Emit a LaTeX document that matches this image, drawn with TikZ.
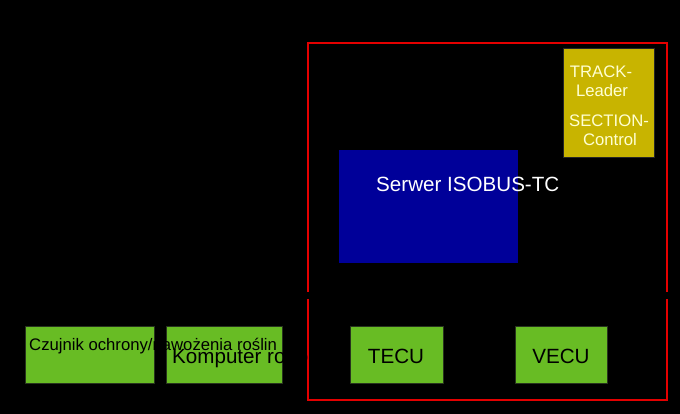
\documentclass[tikz,border=0pt]{standalone}
\usepackage{fontspec}
\setmainfont{Liberation Sans}
\definecolor{boxgreen}{RGB}{104,188,36}
\definecolor{boxedge}{RGB}{40,52,30}
\definecolor{olive}{RGB}{200,180,0}
\definecolor{serverblue}{RGB}{0,0,153}
\definecolor{paleyellow}{RGB}{255,255,210}
\definecolor{framered}{RGB}{228,0,0}
\begin{document}
\begin{tikzpicture}[x=1pt,y=-1pt,
  greenbox/.style={draw=boxedge,line width=1pt,fill=boxgreen,inner sep=0pt},
  bigtxt/.style={font=\fontsize{20.6}{22}\selectfont,inner sep=0pt},
  smalltxt/.style={font=\fontsize{16.7}{18}\selectfont,inner sep=0pt}]
\fill[black] (0,0) rectangle (680,414);
\useasboundingbox (0,0) rectangle (680,414);
% boxes
\node[greenbox,minimum width=129pt,minimum height=57pt] (czb) at (89.5,354.5) {};
\node[greenbox,minimum width=116pt,minimum height=57pt] (kob) at (224,354.5) {};
\node[greenbox,minimum width=93pt,minimum height=57pt] (tecu) at (396.5,354.5) {};
\node[greenbox,minimum width=92pt,minimum height=57pt] (vecu) at (561,354.5) {};
\node[fill=serverblue,inner sep=0pt,minimum width=179pt,minimum height=113pt] (srv) at (428.5,206.5) {};
\node[draw=black!85,line width=1pt,fill=olive,inner sep=0pt,minimum width=91pt,minimum height=109pt] (trk) at (608.5,103.5) {};
% red frame
\draw[framered,line width=2pt] (308,43) rectangle (667,400);
\coordinate (busL) at (0,295.5);
\coordinate (busR) at (680,295.5);
\draw[black,line width=7pt] (busL) -- (busR);
% texts
\node[smalltxt,anchor=base west,text=black] (czt) at (29,350) {Czujnik ochrony/nawożenia roślin};
\node[bigtxt,anchor=base west,text=black] (kot) at (172,363) {Komputer roboczy};
\node[bigtxt,anchor=base,text=black] (tecut) at (396,363) {TECU};
\node[bigtxt,anchor=base,text=black] (vecut) at (561,363) {VECU};
\node[bigtxt,anchor=base west,text=white] (srvt) at (376,192) {Serwer ISOBUS-TC};
\node[smalltxt,anchor=base,text=paleyellow] (t1) at (601,78) {TRACK-};
\node[smalltxt,anchor=base,text=paleyellow] (t2) at (602,97) {Leader};
\node[smalltxt,anchor=base,text=paleyellow] (t3) at (609,127) {SECTION-};
\node[smalltxt,anchor=base,text=paleyellow] (t4) at (610,146) {Control};
\end{tikzpicture}
\end{document}
